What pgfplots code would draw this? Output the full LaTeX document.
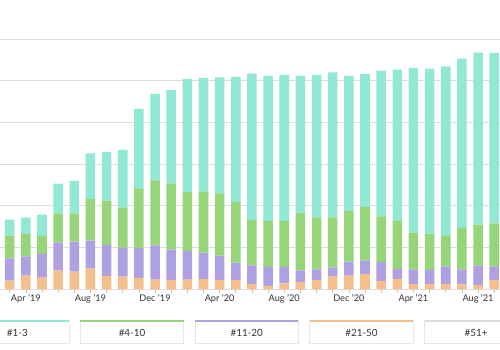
\documentclass[border=0pt]{standalone}
\usepackage{pgfplots}
\pgfplotsset{compat=1.18}
\usepackage{pgfplotstable}
\usepackage{fontspec}
\setmainfont{Lato}
\definecolor{cteal}{RGB}{145,232,212}
\definecolor{cgreen}{RGB}{150,213,120}
\definecolor{cpurple}{RGB}{175,160,226}
\definecolor{corange}{RGB}{245,191,140}
\definecolor{cgray}{RGB}{218,223,226}
\definecolor{cgrid}{RGB}{222,222,222}

\pgfplotstableread{
i o p g t
0 20.8 53.6 54.4 38.4
1 32.8 45.6 54.4 39.2
2 28.0 56.8 43.2 51.2
3 44.8 68.0 68.8 72.0
4 42.4 72.0 67.2 78.4
5 49.6 67.2 100.0 109.6
6 32.0 74.4 106.4 116.8
7 30.4 69.6 96.0 138.4
8 27.2 72.0 141.6 192.0
9 23.2 82.4 156.0 207.2
10 22.4 72.8 158.4 224.8
11 23.2 68.8 141.6 271.2
12 24.8 63.2 146.4 272.8
13 22.4 58.4 149.6 278.4
14 22.4 41.6 145.6 300.0
15 12.8 44.8 108.8 351.2
16 8.0 45.6 110.4 348.0
17 14.4 39.2 110.4 350.4
18 17.6 28.0 138.4 328.0
19 22.4 25.6 124.8 341.6
20 30.4 22.4 120.0 348.0
21 32.8 33.6 123.2 322.4
22 36.8 32.8 128.0 319.2
23 20.0 45.6 109.6 349.6
24 24.8 24.0 115.2 363.2
25 12.8 34.4 88.8 395.2
26 12.8 33.6 87.2 396.0
27 12.8 42.4 72.8 407.2
28 12.0 35.2 100.0 406.4
29 10.4 46.4 98.4 412.8
30 22.4 32.8 103.2 408.8
}\data

\begin{document}
\begin{tikzpicture}[x=0.75pt,y=0.75pt]
\useasboundingbox (0,0) rectangle (500,350);
\clip (0,0) rectangle (500,350);
\begin{axis}[
  at={(0pt,45.525pt)}, anchor=south west,
  scale only axis, width=375pt, height=216.975pt,
  xmin=-0.6, xmax=30.36, ymin=0, ymax=694.3,
  ybar stacked, bar width=0.59,
  axis line style={draw=none},
  ytick={0,100,...,600}, yticklabels={}, ytick style={draw=none},
  ymajorgrids, grid style={cgrid, line width=0.75pt},
  xtick={0,...,30},
  xticklabels={,Apr '19,,,,Aug '19,,,,Dec '19,,,,Apr '20,,,,Aug '20,,,,Dec '20,,,,Apr '21,,,,Aug '21,},
  xtick pos=bottom, tick align=outside, major tick length=3pt,
  xtick style={draw=gray!45, line width=0.5pt},
  xticklabel style={font=\fontsize{6.9}{8}\selectfont, text=black!80, inner sep=1pt},
  clip=false,
]
\addplot[fill=corange, draw=none] table[x=i, y=o] {\data};
\addplot[fill=cpurple, draw=none] table[x=i, y=p] {\data};
\addplot[fill=cgreen, draw=none] table[x=i, y=g] {\data};
\addplot[fill=cteal, draw=none] table[x=i, y=t] {\data};
\end{axis}
\foreach \k/\c/\lab in {0/cteal/{\#1-3},1/cgreen/{\#4-10},2/cpurple/{\#11-20},3/corange/{\#21-50},4/cgray/{\#51+}} {
  \pgfmathsetmacro{\xa}{-34.3+114.7*\k}
  \pgfmathsetmacro{\xb}{\xa+103.3}
  \draw[gray!18, fill=white, line width=0.5pt] (\xa,6.7) rectangle (\xb,29.3);
  \draw[\c, line width=1.5pt] (\xa,29.3) -- (\xb,29.3);
  \node[font=\fontsize{7.4}{9}\selectfont, text=black!80] at ({(\xa+\xb)/2},17.2) {\lab};
}
\end{tikzpicture}
\end{document}
